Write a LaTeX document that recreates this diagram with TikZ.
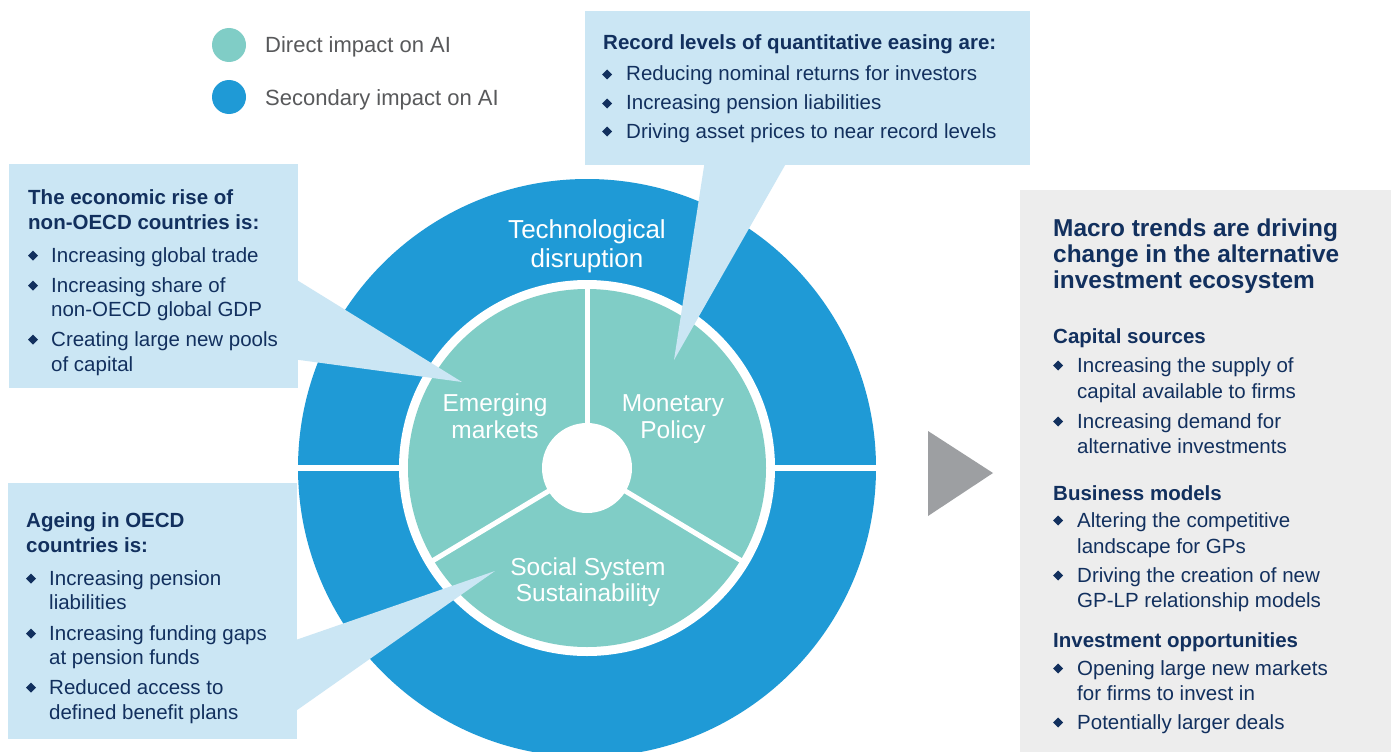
\documentclass[tikz,border=0pt]{standalone}
\usepackage{fontspec}
\setmainfont{Liberation Sans}
\definecolor{ringblue}{HTML}{1F9AD6}
\definecolor{tealc}{HTML}{80CDC6}
\definecolor{boxblue}{HTML}{CBE6F4}
\definecolor{navy}{HTML}{12305E}
\definecolor{greybox}{HTML}{EDEDED}
\definecolor{arrowgrey}{HTML}{9D9FA2}
\definecolor{legtext}{HTML}{58595B}
\newcommand\bodyf{\fontsize{20.5}{25}\selectfont}
\newcommand\bul[2]{\fill[navy] (#1-5,#2-6.5) -- (#1,#2-11.5) -- (#1+5,#2-6.5) -- (#1,#2-1.5) -- cycle;}
\tikzset{
  ln/.style={anchor=base west, inner sep=0pt, text=navy, font=\bodyf},
  hd/.style={anchor=base west, inner sep=0pt, text=navy, font=\bodyf\bfseries},
  bighd/.style={anchor=base west, inner sep=0pt, text=navy, font=\fontsize{24.4}{26}\selectfont\bfseries},
  leg/.style={anchor=base west, inner sep=0pt, text=legtext, font=\fontsize{22}{26}\selectfont},
  inlab/.style={anchor=base, inner sep=0pt, text=white, font=\fontsize{24.5}{27}\selectfont},
  techlab/.style={anchor=base, inner sep=0pt, text=white, font=\fontsize{26}{29}\selectfont},
  calloutbox/.style={fill=boxblue, draw=none, anchor=north west, inner sep=0pt},
  legdot/.style={circle, inner sep=0pt, minimum size=34, draw=none},
}
\begin{document}
\begin{tikzpicture}[x=1pt,y=-1pt]
\useasboundingbox (0,0) rectangle (1395,752);
\fill[white] (0,0) rectangle (1395,752);

% legend
\node[legdot, fill=tealc] (ldot1) at (229,45) {};
\node[legdot, fill=ringblue] (ldot2) at (229,97) {};
\node[leg] (leg1) at (265,53) {Direct impact on AI};
\node[leg] (leg2) at (265,105) {Secondary impact on AI};

% ring
\coordinate (c) at (587,468);
\fill[ringblue] (c) circle (289);
\draw[white, line width=6] (290,468) -- (885,468);
\fill[white] (c) circle (188);
\fill[tealc] (c) circle (179);
\draw[white, line width=5] (c) -- +(0,-182);
\draw[white, line width=5] (c) -- +(149:182);
\draw[white, line width=5] (c) -- +(31:182);
\fill[white] (c) circle (45);

% callout boxes
\node[calloutbox, minimum width=445, minimum height=154] (qe) at (585,11) {};
\node[calloutbox, minimum width=289, minimum height=224] (em) at (9,164) {};
\node[calloutbox, minimum width=289, minimum height=256] (ag) at (8,483) {};
% pointers
\coordinate (qetip) at (674,360);
\coordinate (emtip) at (462,382);
\coordinate (agtip) at (495,571);
\fill[boxblue] (705,160) -- (qetip) -- (788,160) -- cycle;
\fill[boxblue] (292,277) -- (emtip) -- (292,359) -- cycle;
\fill[boxblue] (290,642) -- (agtip) -- (290,715) -- cycle;

% ring labels
\node[techlab] (tech1) at (587,238) {Technological};
\node[techlab] (tech2) at (587,267) {disruption};
\node[inlab] (emr1) at (495,411) {Emerging};
\node[inlab] (emr2) at (495,438) {markets};
\node[inlab] (mon1) at (673,411) {Monetary};
\node[inlab] (mon2) at (673,438) {Policy};
\node[inlab] (soc1) at (588,575) {Social System};
\node[inlab] (soc2) at (588,601) {Sustainability};

% top box text
\node[hd] (qeh) at (603,50) {Record levels of quantitative easing are:};
\bul{607}{81}\node[ln] (qe1) at (626,81) {Reducing nominal returns for investors};
\bul{607}{110}\node[ln] (qe2) at (626,110) {Increasing pension liabilities};
\bul{607}{138}\node[ln] (qe3) at (626,138) {Driving asset prices to near record levels};

% box 1 text
\node[hd] (emh1) at (28,204) {The economic rise of};
\node[hd] (emh2) at (28,229) {non-OECD countries is:};
\bul{33}{262}\node[ln] (em1) at (51,262) {Increasing global trade};
\bul{33}{292}\node[ln] (em2a) at (51,292) {Increasing share of};
\node[ln] (em2b) at (51,316) {non-OECD global GDP};
\bul{33}{346}\node[ln] (em3a) at (51,346) {Creating large new pools};
\node[ln] (em3b) at (51,371) {of capital};

% box 2 text
\node[hd] (agh1) at (26,527) {Ageing in OECD};
\node[hd] (agh2) at (26,552) {countries is:};
\bul{31}{585}\node[ln] (ag1a) at (49,585) {Increasing pension};
\node[ln] (ag1b) at (49,609) {liabilities};
\bul{31}{640}\node[ln] (ag2a) at (49,640) {Increasing funding gaps};
\node[ln] (ag2b) at (49,664) {at pension funds};
\bul{31}{694}\node[ln] (ag3a) at (49,694) {Reduced access to};
\node[ln] (ag3b) at (49,719) {defined benefit plans};

% arrow
\fill[arrowgrey] (928,431) -- (993,473) -- (928,516) -- cycle;

% right box
\node[fill=greybox, anchor=north west, inner sep=0pt, minimum width=371, minimum height=570] (macro) at (1020,190) {};
\node[bighd] (mh1) at (1053,236) {Macro trends are driving};
\node[bighd] (mh2) at (1053,262) {change in the alternative};
\node[bighd] (mh3) at (1053,288) {investment ecosystem};
\node[hd] (cs) at (1053,343) {Capital sources};
\bul{1058}{372}\node[ln] (cs1a) at (1077,372) {Increasing the supply of};
\node[ln] (cs1b) at (1077,398) {capital available to firms};
\bul{1058}{428}\node[ln] (cs2a) at (1077,428) {Increasing demand for};
\node[ln] (cs2b) at (1077,453) {alternative investments};
\node[hd] (bm) at (1053,500) {Business models};
\bul{1058}{527}\node[ln] (bm1a) at (1077,527) {Altering the competitive};
\node[ln] (bm1b) at (1077,553) {landscape for GPs};
\bul{1058}{582}\node[ln] (bm2a) at (1077,582) {Driving the creation of new};
\node[ln] (bm2b) at (1077,607) {GP-LP relationship models};
\node[hd] (io) at (1053,647) {Investment opportunities};
\bul{1058}{675}\node[ln] (io1a) at (1077,675) {Opening large new markets};
\node[ln] (io1b) at (1077,700) {for firms to invest in};
\bul{1058}{729}\node[ln] (io2) at (1077,729) {Potentially larger deals};
\end{tikzpicture}
\end{document}
